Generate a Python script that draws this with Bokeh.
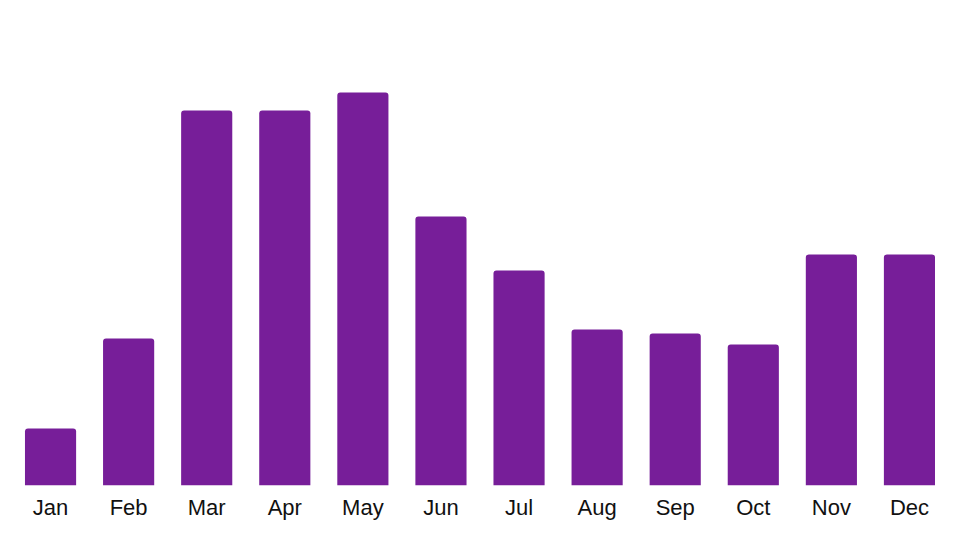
from bokeh.plotting import figure
from bokeh.models import Range1d, FactorRange
from bokeh.embed import file_html
from bokeh.resources import INLINE

months = ["Jan", "Feb", "Mar", "Apr", "May", "Jun", "Jul", "Aug", "Sep", "Oct", "Nov", "Dec"]
values = [5.7, 14.7, 37.5, 37.5, 39.3, 26.9, 21.5, 15.6, 15.2, 14.1, 23.1, 23.1]

p = figure(x_range=FactorRange(*months, range_padding=0), y_range=Range1d(0, 46.7),
           width=952, height=530, output_backend="svg", toolbar_location=None,
           min_border_left=11, min_border_right=4, min_border_top=18, min_border_bottom=45)
p.vbar(x=months, top=values, width=0.655, fill_color="#771E99", line_color=None,
       border_radius=(3, 3, 0, 0))

p.outline_line_color = None
p.xgrid.grid_line_color = None
p.ygrid.grid_line_color = None
p.yaxis.visible = False
p.xaxis.axis_line_color = None
p.xaxis.major_tick_line_color = None
p.xaxis.minor_tick_line_color = None
p.xaxis.major_tick_out = 0
p.xaxis.major_label_standoff = 9
p.xaxis.major_label_text_font = "Liberation Sans"
p.xaxis.major_label_text_font_size = "22px"
p.xaxis.major_label_text_color = "#111111"
p.x_range.range_padding = 0

open("out.html", "w").write(file_html(p, INLINE))
